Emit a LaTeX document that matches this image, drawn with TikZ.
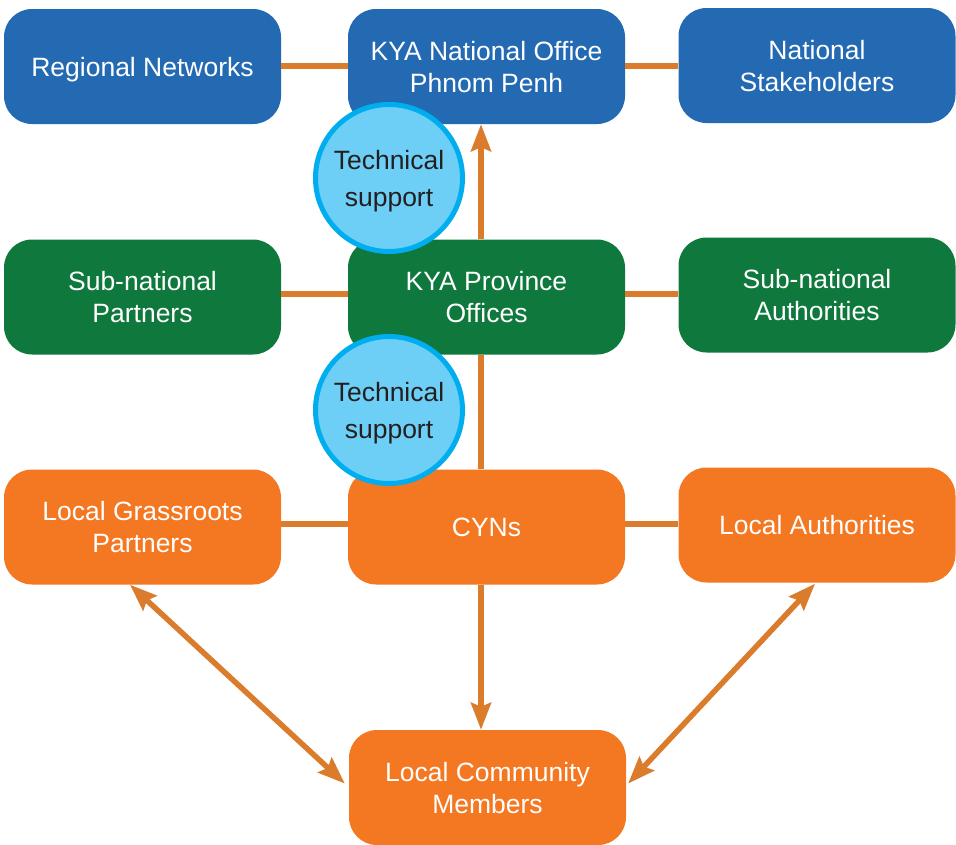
\documentclass[tikz,border=0pt]{standalone}
\usepackage{fontspec}
\setmainfont{Liberation Sans}
\usetikzlibrary{arrows.meta,calc}
\definecolor{kblue}{HTML}{236AB3}
\definecolor{kgreen}{HTML}{0F783C}
\definecolor{korange}{HTML}{F47721}
\definecolor{kline}{HTML}{DA7C2B}
\definecolor{cfill}{HTML}{6DCFF6}
\definecolor{cdraw}{HTML}{00AEEF}
\definecolor{ctext}{HTML}{231F20}
\begin{document}
\begin{tikzpicture}[x=1pt,y=-1pt,
  box/.style={rounded corners=28pt,minimum width=277pt,minimum height=115pt,inner sep=0pt,
    text=white,align=center,text depth=0pt,font=\fontsize{26.5}{32}\selectfont},
  bluebox/.style={box,fill=kblue},
  greenbox/.style={box,fill=kgreen},
  orangebox/.style={box,fill=korange},
  conn/.style={draw=kline,line width=5.5pt},
  tip/.style={-{Stealth[length=27pt,width=20pt,inset=4pt]}},
  tips/.style={{Stealth[length=27pt,width=20pt,inset=4pt]}-{Stealth[length=27pt,width=20pt,inset=4pt]}},
  techc/.style={circle,fill=cfill,draw=cdraw,line width=5pt,minimum size=147pt,inner sep=0pt,
    align=center,text=ctext,text depth=0pt,font=\fontsize{26.5}{37}\selectfont}]
\useasboundingbox (0,0) rectangle (956,844);
% row 1
\node[bluebox] (rn) at (142.5,66.5) {Regional Networks};
\node[bluebox] (nat) at (486.5,66.5) {KYA National Office\\Phnom Penh};
\node[bluebox] (ns) at (817,65.5) {National\\Stakeholders};
% row 2
\node[greenbox] (snp) at (142.5,297) {Sub-national\\Partners};
\node[greenbox] (prov) at (486.5,297) {KYA Province\\Offices};
\node[greenbox] (sna) at (817,295) {Sub-national\\Authorities};
% row 3
\node[orangebox] (lgp) at (142.5,527) {Local Grassroots\\Partners};
\node[orangebox] (cyn) at (486.5,527) {CYNs};
\node[orangebox] (la) at (817,525) {Local Authorities};
% row 4
\node[orangebox] (lcm) at (487.5,787.5) {Local Community\\Members};
% connectors
\draw[conn] (rn.east |- 0,66) -- (nat.west |- 0,66);
\draw[conn] (nat.east |- 0,66) -- (ns.west |- 0,66);
\draw[conn] (snp.east |- 0,294) -- (prov.west |- 0,294);
\draw[conn] (prov.east |- 0,294) -- (sna.west |- 0,294);
\draw[conn] (lgp.east |- 0,524) -- (cyn.west |- 0,524);
\draw[conn] (cyn.east |- 0,524) -- (la.west |- 0,524);
\draw[conn] (cyn.north -| 481,0) -- (prov.south -| 481,0);
\draw[conn,tip] (prov.north -| 481,0) -- (nat.south -| 481,0);
\draw[conn,tip] (cyn.south -| 481,0) -- (lcm.north -| 481,0);
\coordinate (lgpfoot) at ($(lgp.south)+(-12.5,0)$);
\coordinate (lcmleft) at ($(lcm.west)+(-4,-4)$);
\coordinate (lafoot) at ($(la.south)+(-2,1)$);
\coordinate (lcmright) at ($(lcm.east)+(2,-4)$);
\draw[conn,tips] (lgpfoot) -- (lcmleft);
\draw[conn,tips] (lafoot) -- (lcmright);
% technical support circles
\node[techc] (ts1) at (389,178) {Technical\\support};
\node[techc] (ts2) at (389,410) {Technical\\support};
\end{tikzpicture}
\end{document}
